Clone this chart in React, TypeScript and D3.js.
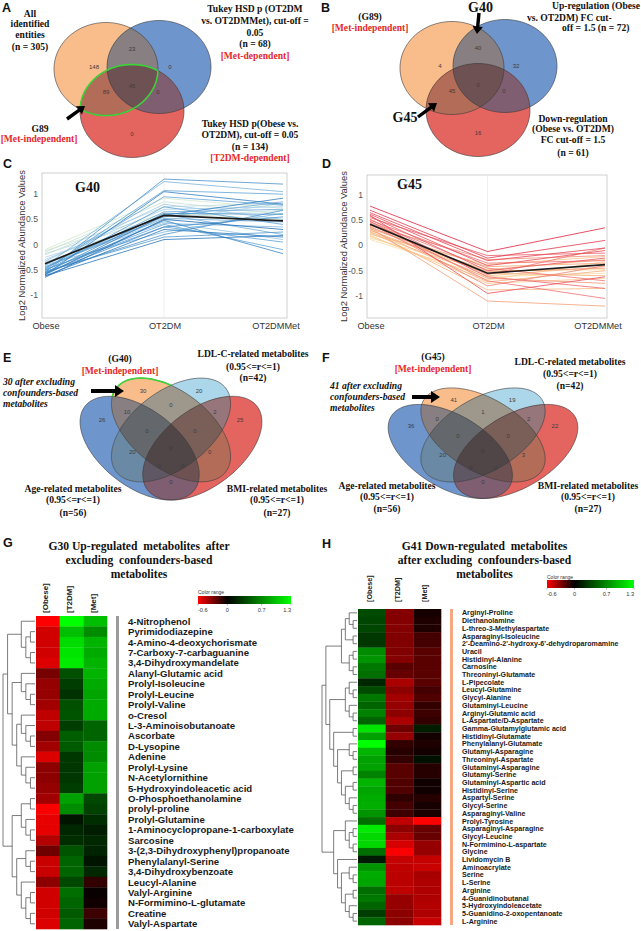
import React from 'react';
import * as d3 from 'd3';

const SERIF = "'Liberation Serif', 'Times New Roman', serif";
const SANS = "'Liberation Sans', Arial, sans-serif";
const RED = '#e5282d';

// ---- Venn counts ----
// 3-set region order: orange, orange&blue, blue, orange&red, all, blue&red, red
const venn3Masks = [1, 3, 2, 5, 7, 6, 4];
const vennACounts = [148, 23, 0, 89, 45, 0, 0];
const vennBCounts = [4, 40, 32, 45, 0, 0, 16];

// 4-set order of sets: Age, G-set, LDL-C, BMI
const venn4Masks = [1, 2, 4, 8, 3, 6, 12, 7, 14, 5, 15, 10, 13, 11, 9];
const vennECounts = [26, 30, 20, 25, 10, 0, 2, 0, 0, 20, 0, 0, 0, 0, 0];
const vennFCounts = [36, 41, 19, 22, 0, 1, 2, 0, 0, 20, 0, 3, 0, 0, 0];

// ---- profile plots ----
const profileGroups = ['Obese', 'OT2DM', 'OT2DMMet'];
const g40Profiles = [
  [-0.55, 1.3, 1.2], [-0.5, 1.07, 1.0], [-0.6, 1.05, 0.8], [-0.48, 0.95, 0.78],
  [-0.52, 0.75, 0.4], [-0.45, 0.6, 0.2], [-0.58, 0.48, -0.18], [-0.5, 0.4, -0.1],
  [-0.62, 0.3, 0.15], [-0.4, 0.25, 0.62], [-0.55, 0.2, 0.68], [-0.45, 0.55, 0.85],
  [-0.42, 1.25, 1.05], [-0.65, 0.5, 0.3], [-0.35, 0.45, 0.1], [-0.57, 0.35, 0.55],
  [-0.47, 0.65, 0.7], [-0.53, 0.15, 0.25], [-0.6, 0.58, 0.92], [-0.38, 0.42, 0.35],
  [-0.3, 0.7, 0.75], [-0.44, 0.52, 0.45], [-0.5, 0.35, 0.05], [-0.56, 0.62, 0.6],
  [-0.33, 0.8, 0.5], [-0.25, 0.48, 0.82], [-0.62, 0.1, 0.18],
  [-0.1, 0.92, 0.72], [-0.15, 0.85, 0.6], [-0.2, 0.75, 0.82], [-0.12, 0.62, 0.5], [-0.18, 0.55, 0.68],
];
const g40Mean = [-0.38, 0.58, 0.47];
const g45Profiles = [
  [0.78, -0.12, 0.35], [0.7, -0.25, 0.1], [0.65, -0.3, -0.05], [0.62, -0.4, -0.1],
  [0.6, -0.95, -0.62], [0.58, -0.5, -0.25], [0.55, -0.2, -0.15], [0.52, -0.62, -0.85],
  [0.5, -0.35, -0.3], [0.48, -0.7, -1.05], [0.47, -0.45, -0.7], [0.45, -0.58, -0.05],
  [0.43, -0.8, -0.4], [0.4, -0.28, -0.2], [0.38, -0.65, -0.75], [0.36, -0.52, -0.45],
  [0.35, -1.1, -1.2], [0.33, -0.42, -0.35], [0.31, -0.72, -0.5], [0.3, -0.55, -0.6],
  [0.28, -0.88, -0.85], [0.26, -0.48, -0.28], [0.24, -0.6, -0.42], [0.22, -0.38, -0.22],
  [0.2, -0.75, -0.65], [0.18, -0.68, -0.32], [0.15, -0.5, -0.48], [0.12, -0.62, -0.55],
];
const g45Mean = [0.42, -0.55, -0.38];
const yTicks = [-1, -0.5, 0, 0.5, 1];

// ---- heatmaps ----
const heatColumns = ['[Obese]', '[T2DM]', '[Met]'];
const legendTicks = [-0.6, 0, 0.7, 1.3];

const g30Names = [
  '4-Nitrophenol', 'Pyrimidodiazepine', '4-Amino-4-deoxychorismate', '7-Carboxy-7-carbaguanine',
  '3,4-Dihydroxymandelate', 'Alanyl-Glutamic acid', 'Prolyl-Isoleucine', 'Prolyl-Leucine',
  'Prolyl-Valine', 'o-Cresol', 'L-3-Aminoisobutanoate', 'Ascorbate', 'D-Lysopine', 'Adenine',
  'Prolyl-Lysine', 'N-Acetylornithine', '5-Hydroxyindoleacetic acid', 'O-Phosphoethanolamine',
  'prolyl-proline', 'Prolyl-Glutamine', '1-Aminocyclopropane-1-carboxylate', 'Sarcosine',
  '3-(2,3-Dihydroxyphenyl)propanoate', 'Phenylalanyl-Serine', '3,4-Dihydroxybenzoate',
  'Leucyl-Alanine', 'Valyl-Arginine', 'N-Formimino-L-glutamate', 'Creatine', 'Valyl-Aspartate',
];
const g30Obese = [-0.6, -0.49, -0.49, -0.49, -0.52, -0.28, -0.35, -0.35, -0.38, -0.45, -0.45, -0.31, -0.38, -0.52, -0.33, -0.33, -0.35, -0.38, -0.59, -0.54, -0.54, -0.42, -0.26, -0.47, -0.47, -0.33, -0.49, -0.49, -0.49, -0.52];
const g30T2dm = [1.3, 0.97, 1.12, 1.17, 1.2, 0.41, 0.31, 0.25, 0.41, 0.43, 0.31, 0.48, 0.46, 0.28, 0.28, 0.28, 0.31, 0.82, 0.71, 0.1, 0.2, 0.23, 0.43, 0.51, 0.51, 0.36, 0.56, 0.51, 0.46, 0.51];
const g30Met = [0.97, 0.71, 0.92, 0.87, 0.92, 0.92, 0.87, 0.84, 0.87, 0.87, 0.51, 0.51, 0.71, 0.71, 0.82, 0.82, 0.82, 0.36, 0.33, 0.23, 0.15, 0.2, 0.18, 0.1, 0.2, -0.12, -0.02, -0.04, -0.14, -0.07];
const g30Tree = [
  [[0, [[1, 2], [3, 4]]], [[5, [6, [7, 8]]], [[9, [10, [11, 12]]], [13, [14, [15, 16]]]]]],
  [[[17, 18], [19, [20, 21]]], [[22, [23, 24]], [25, [[26, 27], [28, 29]]]]],
];

const g41Names = [
  'Arginyl-Proline', 'Diethanolamine', 'L-threo-3-Methylaspartate', 'Asparaginyl-Isoleucine',
  "2'-Deamino-2'-hydroxy-6'-dehydroparomamine", 'Uracil', 'Histidinyl-Alanine', 'Carnosine',
  'Threoninyl-Glutamate', 'L-Pipecolate', 'Leucyl-Glutamine', 'Glycyl-Alanine', 'Glutaminyl-Leucine',
  'Arginyl-Glutamic acid', 'L-Aspartate/D-Aspartate', 'Gamma-Glutamylglutamic acid',
  'Histidinyl-Glutamate', 'Phenylalanyl-Glutamate', 'Glutamyl-Asparagine', 'Threoninyl-Aspartate',
  'Glutaminyl-Asparagine', 'Glutamyl-Serine', 'Glutaminyl-Aspartic acid', 'Histidinyl-Serine',
  'Aspartyl-Serine', 'Glycyl-Serine', 'Asparaginyl-Valine', 'Prolyl-Tyrosine', 'Asparaginyl-Asparagine',
  'Glycyl-Leucine', 'N-Formimino-L-aspartate', 'Glycine', 'Lividomycin B', 'Aminoacrylate', 'Serine',
  'L-Serine', 'Arginine', '4-Guanidinobutanal', '5-Hydroxyindoleacetate', '5-Guanidino-2-oxopentanoate',
  'L-Arginine',
];
const g41Obese = [0.38, 0.35, 0.35, 0.28, 0.28, 0.71, 0.76, 0.61, 0.56, 0.2, 0.38, 0.61, 0.51, 0.66, 0.51, 1.17, 0.82, 1.3, 0.92, 0.82, 0.82, 0.66, 0.92, 0.84, 0.87, 0.89, 0.76, 0.56, 1.2, 1.1, 1.1, 0.56, 0.13, 0.76, 0.87, 0.84, 0.56, 0.61, 0.51, 0.31, 0.51];
const g41T2dm = [-0.31, -0.31, -0.31, -0.3, -0.3, -0.3, -0.31, -0.21, -0.24, -0.4, -0.33, -0.38, -0.35, -0.33, -0.4, -0.26, -0.35, -0.12, -0.09, -0.12, -0.21, -0.21, -0.19, -0.19, -0.11, -0.16, -0.14, -0.45, -0.33, -0.4, -0.5, -0.59, -0.46, -0.45, -0.44, -0.44, -0.45, -0.35, -0.35, -0.33, -0.33];
const g41Met = [-0.05, -0.07, -0.07, -0.16, -0.16, -0.21, -0.21, -0.21, -0.21, -0.21, -0.16, -0.19, -0.12, -0.14, -0.12, 0.15, -0.05, -0.07, -0.05, 0.08, -0.09, -0.09, -0.04, -0.04, -0.09, -0.06, -0.06, -0.6, -0.24, -0.24, -0.35, -0.35, -0.46, -0.47, -0.39, -0.41, -0.41, -0.41, -0.42, -0.41, -0.47];
const g41Tree = [
  [
    [[[0, [1, 2]], [3, 4]], [[5, 6], [7, 8]]],
    [[[9, [10, 11]], [12, [13, 14]]], [[15, 16], [[17, [18, 19]], [[20, 21], [[22, 23], [24, [25, 26]]]]]]],
  ],
  [[27, [[28, 29], [30, 31]]], [32, [[33, [34, 35]], [[36, 37], [38, [39, 40]]]]]],
];

// ---------- helpers ----------
const closedLine = d3.line().curve(d3.curveLinearClosed);

function ellipsePts(cx: number, cy: number, a: number, b: number, ang: number) {
  return d3.range(96).map((k) => {
    const t = (2 * Math.PI * k) / 96;
    const u = a * Math.cos(t);
    const v = b * Math.sin(t);
    return [cx + u * Math.cos(ang) - v * Math.sin(ang), cy + u * Math.sin(ang) + v * Math.cos(ang)];
  });
}

function bitCount(m: number) {
  let c = 0;
  while (m) { c += m & 1; m >>= 1; }
  return c;
}

function mixColor(cols: string[], k: number) {
  const rgbs = cols.map((c) => d3.rgb(c));
  return d3.rgb(d3.mean(rgbs, (c) => c.r)! * k, d3.mean(rgbs, (c) => c.g)! * k, d3.mean(rgbs, (c) => c.b)! * k).formatHex();
}

// paint every intersection, smallest first, so deeper overlaps sit on top
function VennShapes({ id, paths, colors }: any) {
  const n = paths.length;
  const masks = d3.range(1, 1 << n).sort((a, b) => bitCount(a) - bitCount(b) || a - b);
  return (
    <g>
      <defs>
        {paths.map((p: string, i: number) => (
          <clipPath id={`${id}c${i}`} key={i}><path d={p} /></clipPath>
        ))}
      </defs>
      {masks.map((m) => {
        const inc = d3.range(n).filter((i) => m & (1 << i));
        const col = mixColor(inc.map((i) => colors[i]), 0.75 ** (inc.length - 1));
        let el: any = <path d={paths[inc[0]]} fill={col} />;
        inc.slice(1).forEach((i) => { el = <g clipPath={`url(#${id}c${i})`}>{el}</g>; });
        return <g key={m}>{el}</g>;
      })}
      {paths.map((p: string, i: number) => (
        <path key={i} d={p} fill="none" stroke="#3a3a3a" strokeWidth={0.6} />
      ))}
    </g>
  );
}

const venn3Colors = ['#f9bd8c', '#6e96cd', '#e4645f'];
const venn3Offsets = [[0, 0], [53, -2], [26, 42]];
const venn3LabelPos = [[-12, -2], [26, -20], [64, -2], [0, 23], [26, 17], [52, 23], [26, 65]];

function Venn3({ id, ox, oy, counts, lens }: any) {
  const paths = venn3Offsets.map(([dx, dy]) => closedLine(ellipsePts(ox + dx, oy + dy, 52, 46.5, 0) as any)!);
  return (
    <g>
      <VennShapes id={id} paths={paths} colors={venn3Colors} />
      {lens && (
        <g>
          <path d={paths[0]} fill="none" stroke="#3fd23a" strokeWidth={1.6} clipPath={`url(#${id}c2)`} />
          <path d={paths[2]} fill="none" stroke="#3fd23a" strokeWidth={1.6} clipPath={`url(#${id}c0)`} />
        </g>
      )}
      {venn3Masks.map((m, i) => (
        <text key={m} x={ox + venn3LabelPos[i][0]} y={oy + venn3LabelPos[i][1] + 2} fontSize={6} textAnchor="middle" fill="#3c3c3c" fontFamily={SANS}>{counts[i]}</text>
      ))}
    </g>
  );
}

const venn4Colors = ['#6e96cd', '#f9bd8c', '#acd7ea', '#e4645f'];
const venn4Shapes = [[0.35, 0.47, -45], [0.5, 0.57, -45], [0.5, 0.57, 45], [0.65, 0.47, 45]];
const venn4LabelPos = [
  [0.17, 0.625], [0.366, 0.784], [0.634, 0.784], [0.83, 0.625], [0.29, 0.669], [0.5, 0.707],
  [0.71, 0.669], [0.385, 0.564], [0.615, 0.564], [0.315, 0.449], [0.5, 0.471], [0.685, 0.449],
  [0.443, 0.372], [0.557, 0.372], [0.5, 0.284],
];

function Venn4({ id, left, sx, base, sy, counts, highlight }: any) {
  const xs = d3.scaleLinear().domain([0, 1]).range([left, left + sx]);
  const ys = d3.scaleLinear().domain([0, 1]).range([base, base - sy]);
  const paths = venn4Shapes.map(([cx, cy, ang]) =>
    closedLine(ellipsePts(cx, cy, 0.35, 0.2, (ang * Math.PI) / 180).map(([u, v]) => [xs(u), ys(v)]) as any)!
  );
  return (
    <g>
      <VennShapes id={id} paths={paths} colors={venn4Colors} />
      {highlight && (
        <g>
          <defs>
            <mask id={`${id}m`}>
              <rect x={0} y={0} width={641} height={931} fill="#fff" />
              <path d={paths[0]} fill="#000" />
              <path d={paths[2]} fill="#000" />
              <path d={paths[3]} fill="#000" />
            </mask>
          </defs>
          <path d={paths[1]} fill="none" stroke="#3fd23a" strokeWidth={1.6} mask={`url(#${id}m)`} />
        </g>
      )}
      {venn4Masks.map((m, i) => (
        <text key={m} x={xs(venn4LabelPos[i][0])} y={ys(venn4LabelPos[i][1]) + 2} fontSize={6} textAnchor="middle" fill="#3c3c3c" fontFamily={SANS}>{counts[i]}</text>
      ))}
    </g>
  );
}

function Arrow({ x1, y1, x2, y2, w = 3.4, hw = 5.2, hl = 7.5 }: any) {
  const len = Math.hypot(x2 - x1, y2 - y1);
  const ang = (Math.atan2(y2 - y1, x2 - x1) * 180) / Math.PI;
  const s = len - hl;
  const pts = [[0, -w / 2], [s, -w / 2], [s, -hw], [len, 0], [s, hw], [s, w / 2], [0, w / 2]];
  return <polygon points={pts.map((p) => p.join(',')).join(' ')} transform={`translate(${x1},${y1}) rotate(${ang})`} fill="#000" />;
}

function Lines({ x, ys, lines, size = 9.6, anchor = 'middle', color = '#111', italic = false }: any) {
  return (
    <g fontFamily={SERIF} fontWeight="bold" fontSize={size} textAnchor={anchor} fill={color} fontStyle={italic ? 'italic' : 'normal'}>
      {lines.map((l: string, i: number) => (
        <text key={i} x={Array.isArray(x) ? x[i] : x} y={ys[i]} style={{ whiteSpace: 'pre' }}>{l}</text>
      ))}
    </g>
  );
}

function PanelLetter({ x, y, l }: any) {
  return <text x={x} y={y} fontFamily={SANS} fontWeight="bold" fontSize={12.5} fill="#111">{l}</text>;
}

function ProfilePanel({ profiles, mean, color, box, xr, ydom, title, titleX, titleY, ylabX, desc }: any) {
  const x = d3.scalePoint().domain(profileGroups).range(xr);
  const y = d3.scaleLinear().domain(ydom).range([box.y1, box.y0]);
  const line = d3.line<number>().x((_, i) => x(profileGroups[i])!).y((d) => y(d));
  const ordered = d3.sort(profiles, (p: number[]) => (desc ? -p[0] : p[0]));
  const midY = (box.y0 + box.y1) / 2;
  return (
    <g>
      <rect x={box.x0} y={box.y0} width={box.x1 - box.x0} height={box.y1 - box.y0} fill="#fff" stroke="#c4c4c4" strokeWidth={0.8} />
      <line x1={x('OT2DM')} x2={x('OT2DM')} y1={box.y0} y2={box.y1} stroke="#ececec" strokeWidth={0.8} />
      {ordered.map((p: number[], i: number) => (
        <path key={i} d={line(p)!} fill="none" stroke={color(p[0])} strokeWidth={0.95} strokeOpacity={0.85} />
      ))}
      <path d={line(mean)!} fill="none" stroke="#1b1b1b" strokeWidth={1.7} />
      {yTicks.map((t) => (
        <text key={t} x={box.x0 - 4} y={y(t) + 3} fontSize={8.6} textAnchor="end" fill="#555" fontFamily={SANS}>{t}</text>
      ))}
      {profileGroups.map((g, i) => (
        <text key={g} x={x(g)! + (i === 2 ? -7 : 1)} y={329} fontSize={9.2} textAnchor="middle" fill="#333" fontFamily={SANS}>{g}</text>
      ))}
      <text transform={`translate(${ylabX},${midY}) rotate(-90)`} fontSize={9.4} textAnchor="middle" fill="#333" fontFamily={SANS}>Log2 Normalized Abundance Values</text>
      <text x={titleX} y={titleY} fontSize={14} fontWeight="bold" fontFamily={SERIF} fill="#111">{title}</text>
    </g>
  );
}

const heatColor = d3.scaleLinear<string>().domain([-0.6, 0, 1.3]).range(['#ff0000', '#000000', '#00ff00']).clamp(true);

function ColorLegend({ id, x0, x1, y0, y1, titleY, tickY }: any) {
  const s = d3.scaleLinear().domain([-0.6, 1.3]).range([x0, x1]);
  return (
    <g fontFamily={SANS}>
      <defs>
        <linearGradient id={id} x1="0" x2="1" y1="0" y2="0">
          {[-0.6, 0, 1.3].map((v) => (
            <stop key={v} offset={(s(v) - x0) / (x1 - x0)} stopColor={heatColor(v)} />
          ))}
        </linearGradient>
      </defs>
      <text x={x0} y={titleY} fontSize={5} fill="#333">Color range</text>
      <rect x={x0} y={y0} width={x1 - x0} height={y1 - y0} fill={`url(#${id})`} />
      {legendTicks.map((t, i) => (
        <g key={t}>
          <line x1={s(t)} x2={s(t)} y1={y1} y2={y1 + 1.5} stroke="#666" strokeWidth={0.5} />
          <text x={s(t)} y={tickY} fontSize={5.6} fill="#333" textAnchor={i === 0 ? 'start' : i === legendTicks.length - 1 ? 'end' : 'middle'}>{t}</text>
        </g>
      ))}
    </g>
  );
}

function Heatmap({ names, values, tree, x0, x1, y0, y1, dendroLeft, barX, barColor, labelX, labelSize, headerBottom, headerSize }: any) {
  const xb = d3.scaleBand().domain(heatColumns).range([x0, x1]);
  const yb = d3.scaleBand().domain(names.map((_: string, i: number) => String(i))).range([y0, y1]);
  const root = d3.hierarchy(tree, (d: any) => (Array.isArray(d) ? d : null));
  d3.cluster().size([y1 - y0, x0 - 1 - dendroLeft]).separation(() => 1)(root as any);
  const segs: number[][] = [];
  root.each((n: any) => {
    if (!n.children) return;
    const px = dendroLeft + n.y;
    const ys = n.children.map((c: any) => y0 + c.x);
    segs.push([px, d3.min(ys)!, px, d3.max(ys)!]);
    n.children.forEach((c: any) => segs.push([px, y0 + c.x, dendroLeft + c.y, y0 + c.x]));
  });
  return (
    <g>
      {names.map((nm: string, r: number) =>
        heatColumns.map((c, ci) => (
          <rect key={nm + c} x={xb(c)} y={yb(String(r))} width={xb.bandwidth() + 0.3} height={yb.bandwidth() + 0.3} fill={heatColor(values[ci][r])} />
        ))
      )}
      {segs.map((s, i) => (
        <line key={i} x1={s[0]} y1={s[1]} x2={s[2]} y2={s[3]} stroke="#5a5a5a" strokeWidth={0.8} />
      ))}
      <rect x={barX} y={y0} width={3} height={y1 - y0} fill={barColor} />
      {names.map((nm: string, r: number) => (
        <text key={nm} x={labelX} y={yb(String(r))! + yb.bandwidth() / 2 + labelSize * 0.36} fontSize={labelSize} fontWeight="bold" fontFamily={SANS} fill="#1a1a1a">{nm}</text>
      ))}
      {heatColumns.map((c) => (
        <text key={c} transform={`translate(${xb(c)! + xb.bandwidth() / 2 - 2.5 + headerSize * 0.36},${headerBottom}) rotate(-90)`} fontSize={headerSize} fontWeight="bold" fontFamily={SANS} fill="#222">{c}</text>
      ))}
    </g>
  );
}

const blueTone = d3.scaleLinear<string>().domain([-0.65, -0.52, -0.3, -0.1]).range(['#1f6db3', '#5a9fd4', '#a6cde9', '#d3e8cc']).clamp(true);
const redTone = d3.scaleLinear<string>().domain([0.1, 0.3, 0.5, 0.8]).range(['#fde2a6', '#f6b07c', '#ec6c6e', '#df1f3c']).clamp(true);

export default function App() {
  return (
    <svg width={641} height={931} style={{ position: 'absolute', left: 0, top: 0, background: '#fff' }}>
      <rect x={0} y={0} width={641} height={931} fill="#fff" />

      {/* ---- A ---- */}
      <PanelLetter x={2} y={12} l="A" />
      <Venn3 id="va" ox={106} oy={69} counts={vennACounts} lens />
      <Arrow x1={67} y1={119} x2={85} y2={106} />
      <Lines x={30} ys={[16.5, 27, 38, 49.5]} lines={['All', 'identified', 'entities', '(n = 305)']} />
      <Lines x={255} ys={[11.5, 23.5, 35.5, 46.5]} lines={['Tukey HSD p (OT2DM', 'vs. OT2DMMet), cut-off =', '0.05', '(n = 68)']} />
      <Lines x={255} ys={[58.5]} lines={['[Met-dependent]']} color={RED} />
      <Lines x={40} ys={[131.5]} lines={['G89']} />
      <Lines x={39} ys={[142]} lines={['[Met-independent]']} color={RED} />
      <Lines x={250} ys={[126.5, 137.5, 149.5]} lines={['Tukey HSD p(Obese vs.', 'OT2DM), cut-off = 0.05', '(n = 134)']} />
      <Lines x={250} ys={[160.5]} lines={['[T2DM-dependent]']} color={RED} />

      {/* ---- B ---- */}
      <PanelLetter x={321} y={12} l="B" />
      <Venn3 id="vb" ox={452} oy={68} counts={vennBCounts} />
      <Arrow x1={479} y1={13} x2={477} y2={34} />
      <Arrow x1={418} y1={117} x2={437} y2={103} />
      <Lines x={370} ys={[19.5]} lines={['(G89)']} />
      <Lines x={370} ys={[30.5]} lines={['[Met-independent]']} color={RED} />
      <Lines x={480.5} ys={[12]} lines={['G40']} size={14} />
      <Lines x={405} ys={[122]} lines={['G45']} size={14} />
      <Lines x={[552, 527, 562]} ys={[8.5, 20.5, 30.5]} lines={['Up-regulation (Obese', 'vs. OT2DM) FC cut-', 'off = 1.5 (n = 72)']} anchor="start" />
      <Lines x={573} ys={[121.5, 131.5, 142.5, 155.5]} lines={['Down-regulation', '(Obese vs. OT2DM)', 'FC cut-off = 1.5', '(n = 61)']} />

      {/* ---- C / D ---- */}
      <PanelLetter x={3} y={168} l="C" />
      <ProfilePanel profiles={g40Profiles} mean={g40Mean} color={blueTone} desc box={{ x0: 42, x1: 287, y0: 173, y1: 318 }} xr={[45, 283]} ydom={[-1.455, 1.42]} title="G40" titleX={75} titleY={192} ylabX={25} />
      <PanelLetter x={322} y={168} l="D" />
      <ProfilePanel profiles={g45Profiles} mean={g45Mean} color={redTone} box={{ x0: 367, x1: 607, y0: 175, y1: 318 }} xr={[370, 605]} ydom={[-1.436, 1.396]} title="G45" titleX={397} titleY={189} ylabX={347} />

      {/* ---- E ---- */}
      <PanelLetter x={3} y={362} l="E" />
      <Venn4 id="ve" left={66.5} sx={209} base={533.7} sy={182} counts={vennECounts} highlight />
      <Arrow x1={91} y1={391} x2={124} y2={391} w={4} hw={6} hl={9} />
      <Lines x={120} ys={[362]} lines={['(G40)']} />
      <Lines x={120} ys={[374]} lines={['[Met-independent]']} color={RED} />
      <Lines x={253} ys={[357, 369.5, 381]} lines={['LDL-C-related metabolites', '(0.95<=r<=1)', '(n=42)']} />
      <Lines x={3} ys={[384.5, 395.5, 406.5]} lines={['30 after excluding', 'confounders-based', 'metabolites']} anchor="start" italic />
      <Lines x={73} ys={[491.5, 502.5, 515.5]} lines={['Age-related metabolites', '(0.95<=r<=1)', '(n=56)']} />
      <Lines x={277} ys={[491.5, 502.5, 515.5]} lines={['BMI-related metabolites', '(0.95<=r<=1)', '(n=27)']} />

      {/* ---- F ---- */}
      <PanelLetter x={322} y={362} l="F" />
      <Venn4 id="vf" left={374} sx={218} base={529} sy={165} counts={vennFCounts} />
      <Arrow x1={412} y1={397} x2={440} y2={397} w={4} hw={6} hl={9} />
      <Lines x={433} ys={[359.5]} lines={['(G45)']} />
      <Lines x={433} ys={[371.5]} lines={['[Met-independent]']} color={RED} />
      <Lines x={570} ys={[364.5, 376.5, 388.5]} lines={['LDL-C-related metabolites', '(0.95<=r<=1)', '(n=42)']} />
      <Lines x={330} ys={[388.5, 400, 411]} lines={['41 after excluding', 'confounders-based', 'metabolites']} anchor="start" italic />
      <Lines x={387} ys={[488.5, 499.5, 511.5]} lines={['Age-related metabolites', '(0.95<=r<=1)', '(n=56)']} />
      <Lines x={588} ys={[488.5, 499.5, 511.5]} lines={['BMI-related metabolites', '(0.95<=r<=1)', '(n=27)']} />

      {/* ---- G ---- */}
      <PanelLetter x={3} y={547} l="G" />
      <Lines x={139} ys={[549.5, 563.5, 577.5]} lines={['G30 Up-regulated  metabolites  after', 'excluding  confounders-based', 'metabolites']} size={11.6} />
      <ColorLegend id="lg-g" x0={198} x1={291} y0={596} y1={604} titleY={594} tickY={611.5} />
      <Heatmap names={g30Names} values={[g30Obese, g30T2dm, g30Met]} tree={g30Tree} x0={36} x1={107} y0={616} y1={929} dendroLeft={3} barX={116} barColor="#9a9a9a" labelX={128} labelSize={9.6} headerBottom={613} headerSize={8} />

      {/* ---- H ---- */}
      <PanelLetter x={322} y={548} l="H" />
      <Lines x={484.5} ys={[549.5, 563.5, 577.5]} lines={['G41 Down-regulated  metabolites', 'after excluding  confounders-based', 'metabolites']} size={11.6} />
      <ColorLegend id="lg-h" x0={547} x1={634} y0={580} y1={588} titleY={579} tickY={596} />
      <Heatmap names={g41Names} values={[g41Obese, g41T2dm, g41Met]} tree={g41Tree} x0={358} x1={441} y0={609} y1={925} dendroLeft={322} barX={450} barColor="#f6a883" labelX={462} labelSize={7.1} headerBottom={602} headerSize={7.2} />
    </svg>
  );
}
